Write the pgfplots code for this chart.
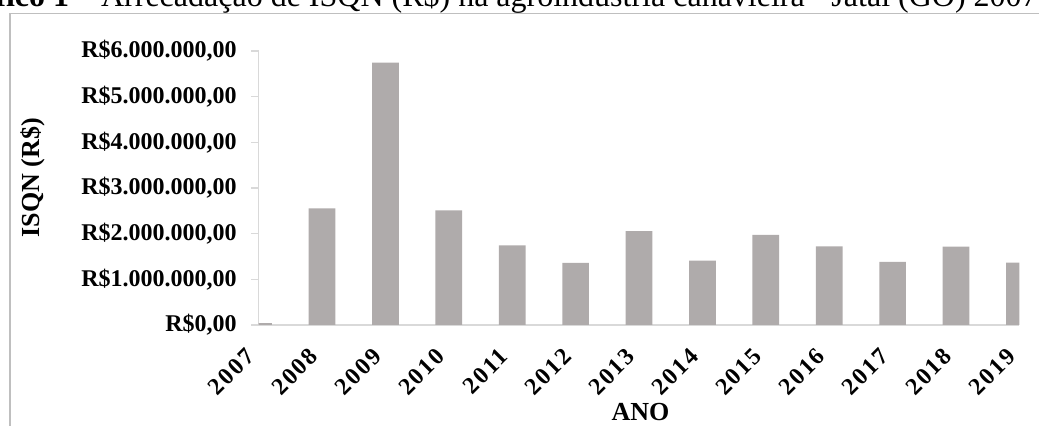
\documentclass[border=0pt]{standalone}
\usepackage{pgfplots}
\pgfplotsset{compat=1.18}
\usepackage{fontspec}
\setmainfont{Liberation Serif}
\definecolor{bargray}{RGB}{175,171,171}
\definecolor{axisgray}{RGB}{217,217,217}
\definecolor{framegray}{RGB}{191,191,191}
\begin{document}
\begin{tikzpicture}
\useasboundingbox (0pt,0pt) rectangle (519.5pt,213pt);
\clip (0pt,0pt) rectangle (519.5pt,213pt);
\draw[framegray, line width=0.75pt] (5pt,-10pt) rectangle (540pt,206.35pt);
\node[anchor=base east, inner sep=0pt, font=\fontsize{16}{19}\selectfont] at (519pt,209.5pt)
  {\textbf{Gráfico 1} – Arrecadação de ISQN (R\$) na agroindústria canavieira - Jataí (GO) 2007};
\begin{axis}[
  at={(129.3pt,50.5pt)}, anchor=south west,
  scale only axis, width=380.4pt, height=137pt,
  ybar, bar width=13.35pt,
  xmin=0, xmax=12, ymin=0, ymax=6000000,
  enlarge x limits=false, enlarge y limits=false,
  axis lines*=left,
  axis line style={-, draw=axisgray, line width=0.75pt},
  tick align=outside,
  xtick={0,...,12},
  xticklabels={2007,2008,2009,2010,2011,2012,2013,2014,2015,2016,2017,2018,2019},
  x tick style={draw=none},
  ytick={0,1000000,2000000,3000000,4000000,5000000,6000000},
  yticklabels={{R\$0,00},{R\$1.000.000,00},{R\$2.000.000,00},{R\$3.000.000,00},{R\$4.000.000,00},{R\$5.000.000,00},{R\$6.000.000,00}},
  scaled y ticks=false,
  y tick style={draw=axisgray, line width=0.75pt},
  major tick length=3.8pt,
  yticklabel style={anchor=east, inner sep=0pt, xshift=-7pt, font=\fontsize{12}{14}\selectfont\bfseries},
  xticklabel style={yshift=-10pt, xshift=-4pt, rotate=45, anchor=east, inner sep=0pt, font=\fontsize{12}{14}\selectfont\bfseries\addfontfeatures{LetterSpace=8}},
  xlabel={ANO}, ylabel={ISQN (R\$)},
  xlabel style={at={(axis description cs:0.502,-0.319)}, anchor=center, inner sep=0pt, font=\fontsize{13}{15}\selectfont\bfseries},
  ylabel style={at={(axis description cs:-0.2972,0.538)}, anchor=center, rotate=0, inner sep=0pt, font=\fontsize{13}{15}\selectfont\bfseries},
]
\addplot[fill=bargray, draw=none] coordinates {
(0,40000) (1,2555000) (2,5745000) (3,2510000) (4,1745000) (5,1358000) (6,2058000)
(7,1409000) (8,1971000) (9,1723000) (10,1380000) (11,1715000) (12,1365000)};
\end{axis}
\end{tikzpicture}
\end{document}
